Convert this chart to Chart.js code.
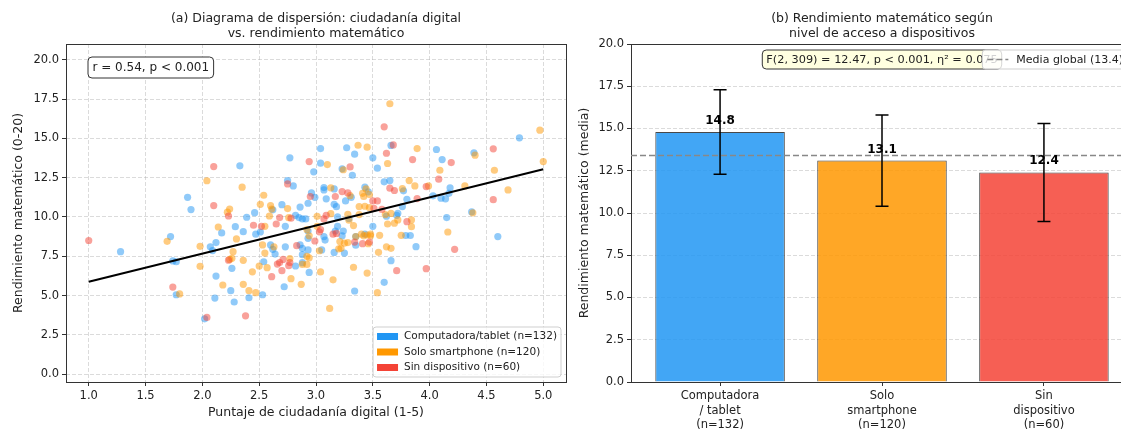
<!DOCTYPE html>
<html>
<head>
<meta charset="utf-8">
<script src="https://cdn.jsdelivr.net/npm/chart.js@4.4.1/dist/chart.umd.min.js"></script>
<style>
  html, body { margin: 0; padding: 0; background: #fff; overflow: hidden; width: 1121px; height: 432px; }
  #left { position: absolute; left: 0; top: 0; }
  #right { position: absolute; left: 566px; top: 0; }
</style>
</head>
<body>
<canvas id="left" width="570" height="432"></canvas>
<canvas id="right" width="570" height="432"></canvas>
<script>
// ---- datos (a): dispersión ----
const xTicks = [1.0, 1.5, 2.0, 2.5, 3.0, 3.5, 4.0, 4.5, 5.0];
const yTicks = [0, 2.5, 5, 7.5, 10, 12.5, 15, 17.5, 20];

const compX = [
  1.87,1.90,2.17,2.29,1.72,1.28,1.74,1.77,1.77,2.07,
  2.09,2.12,2.12,2.11,2.25,2.28,2.02,2.26,3.66,3.27,
  3.34,3.04,2.77,3.04,2.98,3.23,3.32,3.50,3.54,3.60,
  3.65,2.33,2.75,2.80,2.96,2.99,3.07,3.07,3.16,3.09,
  3.26,3.31,3.43,3.46,3.16,3.18,2.70,2.86,2.93,2.62,
  2.82,2.85,2.88,2.91,2.46,2.39,3.19,3.29,2.36,2.73,
  2.51,2.47,2.93,3.19,3.24,3.23,3.07,3.50,3.62,3.71,
  4.79,4.60,4.39,4.06,4.11,3.77,4.18,4.03,4.10,4.14,
  4.17,3.80,3.72,3.76,4.15,4.37,3.79,3.83,2.41,2.53,
  2.72,2.54,2.64,2.60,2.62,2.73,2.82,2.88,2.88,2.88,
  2.93,2.86,2.93,2.94,3.08,3.05,3.16,3.17,3.25,3.35,
  3.35,3.43,3.34,3.66,3.60,3.88];
const compY = [
  11.25,10.47,8.98,9.38,8.75,7.79,7.20,7.15,5.05,8.10,
  7.86,8.37,6.24,4.84,5.31,4.59,3.52,6.73,14.55,14.40,
  13.99,14.35,13.76,13.42,12.87,13.06,12.65,13.76,13.10,12.23,
  12.31,13.25,12.31,11.97,11.53,11.25,11.87,11.72,11.78,11.15,
  11.02,11.25,11.89,11.60,10.80,10.65,10.78,10.63,10.87,10.45,
  10.10,9.96,9.87,9.87,10.27,9.98,10.00,9.90,9.06,9.40,
  9.04,8.90,9.10,9.40,9.10,8.80,8.75,9.40,10.05,10.10,
  15.03,8.75,14.08,14.29,13.65,11.66,11.85,11.34,11.19,11.15,
  11.50,11.12,10.23,10.66,9.96,10.32,8.82,8.82,4.86,5.05,
  5.56,7.15,7.64,8.22,7.94,8.10,6.88,7.09,7.60,8.00,
  7.90,8.23,8.64,6.47,8.53,7.90,7.74,9.10,7.70,8.75,
  8.20,8.90,5.29,7.22,5.84,8.11];

const smartX = [
  2.04,2.24,2.22,2.14,1.69,1.80,1.98,1.98,2.18,2.24,
  2.27,2.26,2.30,3.65,3.37,3.45,3.10,3.24,3.63,2.35,
  2.54,3.13,3.30,3.44,3.41,3.42,3.47,3.43,3.47,3.38,
  2.51,2.60,2.61,2.75,2.59,2.76,3.01,3.13,3.28,3.29,
  3.38,2.55,3.01,2.94,3.33,3.35,3.42,3.45,3.48,3.61,
  3.66,3.69,3.63,4.97,5.00,4.57,4.69,4.40,3.89,4.09,
  3.82,3.87,3.99,3.76,4.31,3.72,3.84,3.84,4.38,4.16,
  3.75,3.12,2.41,2.47,2.36,2.87,2.78,2.44,2.57,2.50,
  2.36,2.55,2.63,2.53,2.77,2.88,2.92,2.92,2.94,2.92,
  3.04,3.15,3.03,3.21,3.25,3.28,3.20,3.22,3.33,3.45,
  3.40,3.48,3.46,3.56,3.55,3.62,3.66,3.54];
const smartY = [
  12.30,10.50,10.30,9.36,8.45,5.10,8.13,6.86,5.67,7.30,
  7.79,7.37,8.60,17.20,14.56,14.44,13.33,13.00,13.40,11.89,
  11.38,11.85,11.35,11.78,11.50,11.30,11.42,10.68,10.60,10.66,
  10.80,10.72,10.50,10.53,10.06,9.95,10.04,10.21,10.17,9.79,
  10.15,9.40,9.40,8.80,9.45,8.75,8.80,8.85,8.80,10.15,
  10.22,9.60,9.55,15.52,13.52,12.97,11.72,13.93,14.35,12.97,
  12.31,11.97,11.97,11.80,11.97,9.81,9.81,9.38,10.26,9.04,
  8.83,4.18,5.31,5.18,5.71,5.71,6.07,6.51,6.77,6.88,
  7.24,7.70,8.10,8.22,7.35,6.98,6.98,7.50,7.40,9.20,
  6.50,6.00,7.85,8.43,8.33,8.37,7.97,8.00,6.80,6.43,
  8.90,8.90,8.30,8.83,7.75,8.10,8.00,5.18];

const sinX = [
  2.10,2.10,2.23,1.00,1.74,2.04,2.23,3.60,3.68,2.94,
  3.30,3.62,3.65,3.69,2.75,2.95,3.17,3.23,3.28,3.50,
  3.54,3.51,2.68,2.78,3.09,3.07,2.45,2.52,2.65,3.03,
  3.15,3.58,4.56,4.56,4.19,3.85,4.08,3.97,3.89,3.80,
  2.38,2.61,2.70,2.66,2.68,2.71,2.76,2.77,2.83,2.99,
  3.04,3.18,3.34,3.41,3.47,3.71,4.22,3.97];
const sinY = [
  13.20,10.72,10.06,8.50,5.54,3.61,7.25,15.73,14.58,13.52,
  13.18,14.05,11.83,11.68,12.10,11.30,11.30,11.61,11.53,11.02,
  11.02,10.55,9.96,9.92,10.10,9.87,9.47,9.40,9.55,9.05,
  8.90,10.48,14.33,11.10,13.46,13.65,12.40,11.93,11.17,9.70,
  3.71,6.20,6.58,7.00,7.10,7.30,6.90,7.10,8.17,8.47,
  9.20,8.95,8.40,8.30,8.40,6.58,7.94,6.71];

// recta de regresión (extremos)
const fitX = [1.0, 5.0];
const fitY = [5.88, 13.03];

const legendLabels = ['Computadora/tablet (n=132)', 'Solo smartphone (n=120)', 'Sin dispositivo (n=60)'];

// ---- datos (b): barras ----
const groups = [['Computadora', '/ tablet', '(n=132)'], ['Solo', 'smartphone', '(n=120)'], ['Sin', 'dispositivo', '(n=60)']];
const means = [14.8, 13.1, 12.4];
const sds = [2.5, 2.7, 2.9];
const globalMean = 13.4;

// colores
const solid = ['#2196F3', '#FF9800', '#F44336'];
const dots = ['rgba(33,150,243,0.5)', 'rgba(255,152,0,0.5)', 'rgba(244,67,54,0.5)'];
const bars = ['rgba(33,150,243,0.85)', 'rgba(255,152,0,0.85)', 'rgba(244,67,54,0.85)'];
const gridCol = 'rgba(176,176,176,0.45)';
const FONT = 'DejaVu Sans';

Chart.defaults.font.family = FONT;
Chart.defaults.color = '#222';

function pts(xs, ys) { return xs.map((x, i) => ({ x: x, y: ys[i] })); }

function roundBox(c, x, y, w, h, r) {
  c.beginPath();
  c.moveTo(x + r, y);
  c.arcTo(x + w, y, x + w, y + h, r);
  c.arcTo(x + w, y + h, x, y + h, r);
  c.arcTo(x, y + h, x, y, r);
  c.arcTo(x, y, x + w, y, r);
  c.closePath();
}

// marco completo del área (como los spines de matplotlib)
const framePlugin = {
  id: 'frame',
  afterDatasetsDraw(chart) {
    const a = chart.chartArea, c = chart.ctx;
    c.save();
    c.strokeStyle = '#333';
    c.lineWidth = 1;
    c.strokeRect(Math.round(a.left) + 0.5, Math.round(a.top) + 0.5, Math.round(a.right - a.left), Math.round(a.bottom - a.top));
    c.restore();
  }
};

function titlePlugin(lines) {
  return {
    id: 'ttl',
    afterDraw(chart) {
      const c = chart.ctx, a = chart.chartArea;
      c.save();
      c.font = '12.5px ' + FONT;
      c.fillStyle = '#222';
      c.textAlign = 'center';
      c.textBaseline = 'middle';
      lines.forEach((t, i) => c.fillText(t, (a.left + a.right) / 2, 19 + i * 15));
      c.restore();
    }
  };
}

function linScale(ticks, min, max) {
  return {
    type: 'linear', min: min, max: max,
    afterBuildTicks: s => { s.ticks = ticks.map(v => ({ value: v })); },
    ticks: { callback: v => v.toFixed(1), font: { size: 11.5 }, color: '#222', padding: 3, autoSkip: false, maxRotation: 0 },
    grid: { color: gridCol, lineWidth: 1, tickColor: '#333', tickLength: 4, tickBorderDash: [] },
    border: { display: false, dash: [4, 2] }
  };
}

// ---------------- (a) dispersión ----------------
const lx = linScale(xTicks, 0.8, 5.2);
lx.afterFit = s => { s.height = 50; };
lx.title = { display: true, text: 'Puntaje de ciudadanía digital (1-5)', font: { size: 12.5 }, color: '#222', padding: { top: 0, bottom: 12 } };
const ly = linScale(yTicks, -0.5, 21);
ly.afterFit = s => { s.width = 66; };
ly.title = { display: true, text: 'Rendimiento matemático (0-20)', font: { size: 12.5 }, color: '#222', padding: { top: 11, bottom: 0 } };

const leftBoxes = {
  id: 'leftBoxes',
  afterDraw(chart) {
    const c = chart.ctx, a = chart.chartArea;
    c.save();
    // caja r
    c.font = '12px ' + FONT;
    const txt = 'r = 0.54, p < 0.001';
    const tw = c.measureText(txt).width;
    const bx = a.left + 22, by = a.top + 13;
    roundBox(c, bx, by, tw + 9, 21, 4);
    c.fillStyle = '#fff'; c.fill();
    c.strokeStyle = '#333'; c.lineWidth = 1; c.stroke();
    c.fillStyle = '#222'; c.textBaseline = 'middle'; c.textAlign = 'left';
    c.fillText(txt, bx + 4.5, by + 11);
    // leyenda
    c.font = '10.5px ' + FONT;
    const lw = Math.max(...legendLabels.map(t => c.measureText(t).width));
    const w = 4 + 21 + 6 + lw + 4, h = 50;
    const x0 = a.right - 5 - w, y0 = a.bottom - 5 - h;
    roundBox(c, x0, y0, w, h, 3);
    c.fillStyle = 'rgba(255,255,255,0.8)'; c.fill();
    c.strokeStyle = '#cfcfcf'; c.stroke();
    legendLabels.forEach((t, i) => {
      const cy = y0 + 9.5 + i * 15.5;
      c.fillStyle = solid[i];
      c.fillRect(x0 + 4, cy - 3.5, 21, 7);
      c.fillStyle = '#222';
      c.fillText(t, x0 + 31, cy);
    });
    c.restore();
  }
};

new Chart(document.getElementById('left'), {
  type: 'scatter',
  data: {
    datasets: [
      { label: legendLabels[0], data: pts(compX, compY), backgroundColor: dots[0], order: 3 },
      { label: legendLabels[1], data: pts(smartX, smartY), backgroundColor: dots[1], order: 2 },
      { label: legendLabels[2], data: pts(sinX, sinY), backgroundColor: dots[2], order: 1 },
      { type: 'line', data: pts(fitX, fitY), borderColor: '#000', borderWidth: 2, pointRadius: 0, fill: false, order: 0 }
    ]
  },
  options: {
    responsive: false,
    animation: false,
    events: [],
    devicePixelRatio: 1,
    layout: { padding: { left: 0, right: 4, top: 44, bottom: 0 } },
    elements: { point: { radius: 3.6, borderWidth: 0 } },
    scales: { x: lx, y: ly },
    plugins: { legend: { display: false }, tooltip: { enabled: false } }
  },
  plugins: [framePlugin, titlePlugin(['(a) Diagrama de dispersión: ciudadanía digital', 'vs. rendimiento matemático']), leftBoxes]
});

// ---------------- (b) barras ----------------
const rx = {
  type: 'linear', min: -0.55, max: 2.55, offset: false,
  afterBuildTicks: s => { s.ticks = groups.map((g, i) => ({ value: i })); },
  afterFit: s => { s.height = 50; },
  ticks: { callback: (v, i) => groups[i], font: { size: 11.5, lineHeight: 1.25 }, color: '#222', padding: 3, autoSkip: false, maxRotation: 0 },
  grid: { offset: false, drawOnChartArea: false, tickColor: '#333', tickLength: 4 },
  border: { display: false }
};
const ry = linScale(yTicks, 0, 20);
ry.afterFit = s => { s.width = 65; };
ry.title = { display: true, text: 'Rendimiento matemático (media)', font: { size: 12.5 }, color: '#222', padding: { top: 11, bottom: 0 } };

const rightExtras = {
  id: 'rightExtras',
  afterDatasetsDraw(chart) {
    const c = chart.ctx, a = chart.chartArea;
    const xs = chart.scales.x, ys = chart.scales.y;
    c.save();
    // media global
    const my = ys.getPixelForValue(globalMean);
    c.strokeStyle = '#888'; c.lineWidth = 1.5; c.setLineDash([6, 3]);
    c.beginPath(); c.moveTo(a.left, my); c.lineTo(a.right, my); c.stroke();
    c.setLineDash([]);
    // barras de error
    c.strokeStyle = '#000'; c.lineWidth = 1.5;
    means.forEach((m, i) => {
      const x = xs.getPixelForValue(i);
      const t = ys.getPixelForValue(m + sds[i]), b = ys.getPixelForValue(m - sds[i]);
      c.beginPath();
      c.moveTo(x, t); c.lineTo(x, b);
      c.moveTo(x - 6.5, t); c.lineTo(x + 6.5, t);
      c.moveTo(x - 6.5, b); c.lineTo(x + 6.5, b);
      c.stroke();
    });
    // etiquetas de valor
    c.font = 'bold 12px ' + FONT;
    c.fillStyle = '#000'; c.textAlign = 'center'; c.textBaseline = 'bottom';
    means.forEach((m, i) => c.fillText(m.toFixed(1), xs.getPixelForValue(i), ys.getPixelForValue(m + 0.3)));
    c.restore();
  },
  afterDraw(chart) {
    const c = chart.ctx, a = chart.chartArea;
    c.save();
    // caja del ANOVA
    c.font = '11.3px ' + FONT;
    const txt = 'F(2, 309) = 12.47, p < 0.001, η² = 0.075';
    const tw = c.measureText(txt).width;
    const cx = (a.left + a.right) / 2;
    const bx = cx - tw / 2 - 4, by = a.top + 6;
    roundBox(c, bx, by, tw + 8, 19, 4);
    c.fillStyle = '#FFFFE0'; c.fill();
    c.strokeStyle = '#333'; c.lineWidth = 1; c.stroke();
    c.fillStyle = '#222'; c.textAlign = 'center'; c.textBaseline = 'middle';
    c.fillText(txt, cx, by + 10);
    // leyenda
    c.font = '11px ' + FONT;
    const lbl = 'Media global (' + globalMean.toFixed(1) + ')';
    const lw = c.measureText(lbl).width;
    const w = 4 + 21 + 9 + lw + 5, h = 19;
    const x0 = a.right - 5 - w, y0 = a.top + 6;
    roundBox(c, x0, y0, w, h, 3);
    c.fillStyle = 'rgba(255,255,255,0.8)'; c.fill();
    c.strokeStyle = '#cfcfcf'; c.stroke();
    c.strokeStyle = '#888'; c.lineWidth = 1.5; c.setLineDash([6, 3]);
    c.beginPath(); c.moveTo(x0 + 5, y0 + h / 2); c.lineTo(x0 + 26, y0 + h / 2); c.stroke();
    c.setLineDash([]);
    c.fillStyle = '#222'; c.textAlign = 'left';
    c.fillText(lbl, x0 + 34, y0 + h / 2 + 0.5);
    c.restore();
  }
};

new Chart(document.getElementById('right'), {
  type: 'bar',
  data: {
    datasets: [{
      data: means.map((m, i) => ({ x: i, y: m })),
      backgroundColor: bars,
      borderColor: 'rgba(40,40,40,0.85)',
      borderWidth: 1,
      categoryPercentage: 0.8,
      barPercentage: 1.0
    }]
  },
  options: {
    responsive: false,
    animation: false,
    events: [],
    devicePixelRatio: 1,
    layout: { padding: { left: 0, right: 3, top: 44, bottom: 0 } },
    scales: { x: rx, y: ry },
    plugins: { legend: { display: false }, tooltip: { enabled: false } }
  },
  plugins: [framePlugin, titlePlugin(['(b) Rendimiento matemático según', 'nivel de acceso a dispositivos']), rightExtras]
});
</script>
</body>
</html>
